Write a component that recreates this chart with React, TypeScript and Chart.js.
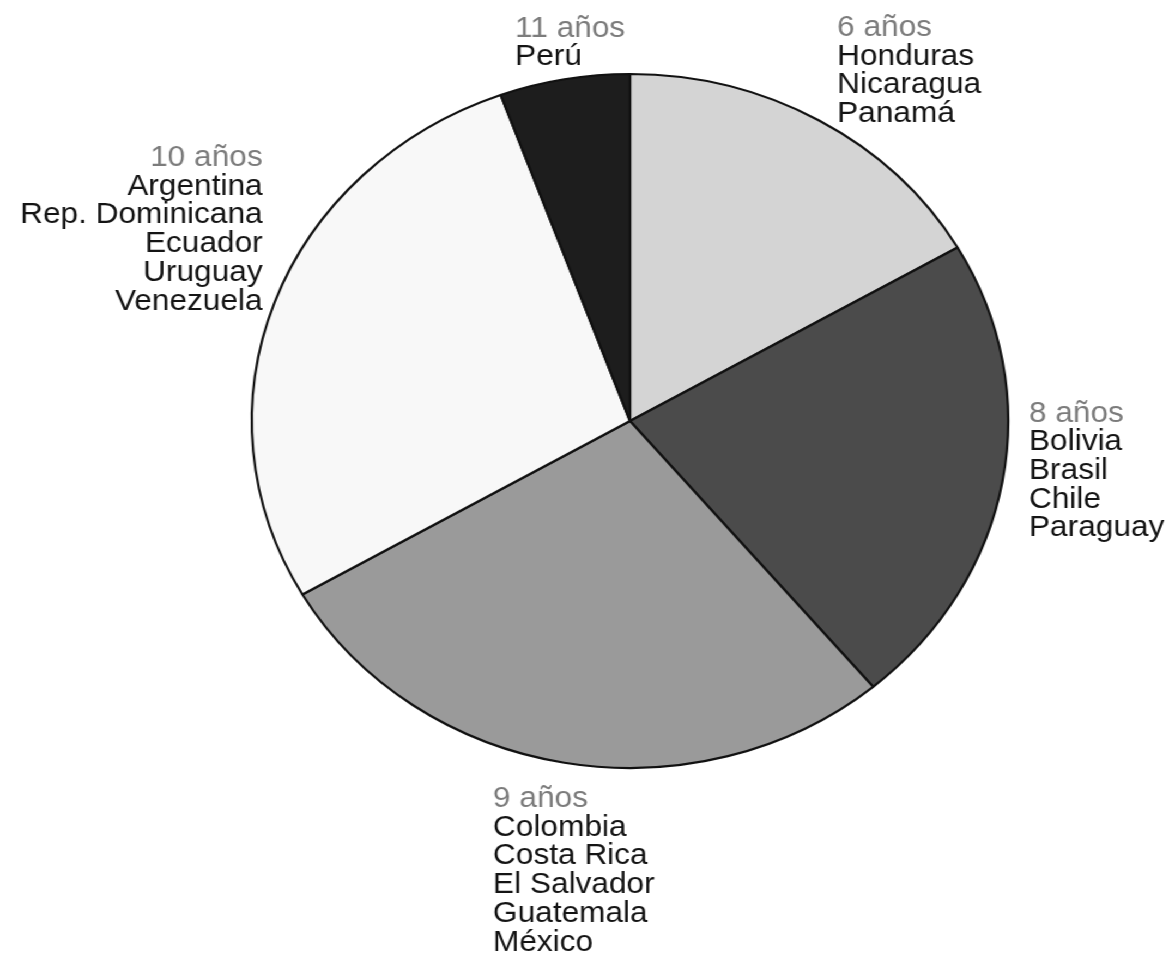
import React, { useEffect, useRef } from "react";
import { Chart, registerables } from "chart.js";

Chart.register(...registerables);

// ---- data ----
const categories = ["6 años", "8 años", "9 años", "10 años", "11 años"];
const countries: string[][] = [
  ["Honduras", "Nicaragua", "Panamá"],
  ["Bolivia", "Brasil", "Chile", "Paraguay"],
  ["Colombia", "Costa Rica", "El Salvador", "Guatemala", "México"],
  ["Argentina", "Rep. Dominicana", "Ecuador", "Uruguay", "Venezuela"],
  ["Perú"],
];
const values = [3, 4, 5, 5, 1];
const sliceColors = ["#d4d4d4", "#4b4b4b", "#9a9a9a", "#f8f8f8", "#1d1d1d"];

// ---- label layout (offset from slice mid-edge point, alignment) ----
const labelOffsets = [
  { dx: 16.5, dy: -84.5, align: "left" },
  { dx: 24.3, dy: -59.6, align: "left" },
  { dx: -65.4, dy: 44.3, align: "left" },
  { dx: -11, dy: -136.3, align: "right" },
  { dx: -45.2, dy: -42.6, align: "left" },
];

const STRETCH = 1.09;
const W = 1171 / STRETCH;
const H = 961;
const CX = 578;
const CY = 421;
const R = 347;
const FONT = '29px "Liberation Sans", Arial, sans-serif';
const LINE_H = 28.7;

const labelPlugin = {
  id: "sliceLabels",
  afterDatasetsDraw(chart: any) {
    const meta = chart.getDatasetMeta(0);
    const ctx = chart.ctx;
    ctx.save();
    ctx.font = FONT;
    ctx.textBaseline = "alphabetic";
    meta.data.forEach((arc: any, i: number) => {
      const p = arc.getProps(["x", "y", "startAngle", "endAngle", "outerRadius"], true);
      const mid = (p.startAngle + p.endAngle) / 2;
      const ex = p.x + Math.cos(mid) * p.outerRadius;
      const ey = p.y + Math.sin(mid) * p.outerRadius;
      const o = labelOffsets[i];
      const x = ex + o.dx;
      let y = ey + o.dy;
      ctx.textAlign = o.align;
      ctx.fillStyle = "#7c7c7c";
      ctx.fillText(categories[i], x, y);
      ctx.fillStyle = "#141414";
      countries[i].forEach((c) => {
        y += LINE_H;
        ctx.fillText(c, x, y);
      });
    });
    ctx.restore();
  },
};

export default function App() {
  const ref = useRef<HTMLCanvasElement | null>(null);
  useEffect(() => {
    if (!ref.current) return;
    const chart = new Chart(ref.current, {
      type: "pie",
      data: {
        labels: categories,
        datasets: [
          {
            data: values,
            backgroundColor: sliceColors,
            borderColor: "#111111",
            borderWidth: 2.2,
            radius: R,
            hoverOffset: 0,
          },
        ],
      },
      options: {
        animation: false,
        responsive: true,
        maintainAspectRatio: false,
        layout: {
          padding: {
            left: CX - R,
            right: W - (CX + R),
            top: CY - R,
            bottom: H - (CY + R),
          },
        },
        plugins: {
          legend: { display: false },
          tooltip: { enabled: false },
        },
        events: [],
      },
      plugins: [labelPlugin],
    });
    return () => chart.destroy();
  }, []);
  return (
    <div
      style={{
        position: "absolute",
        left: 0,
        top: 0,
        width: W,
        height: H,
        transform: `scaleX(${STRETCH})`,
        transformOrigin: "0 0",
        background: "#ffffff",
      }}
    >
      <canvas ref={ref} />
    </div>
  );
}
